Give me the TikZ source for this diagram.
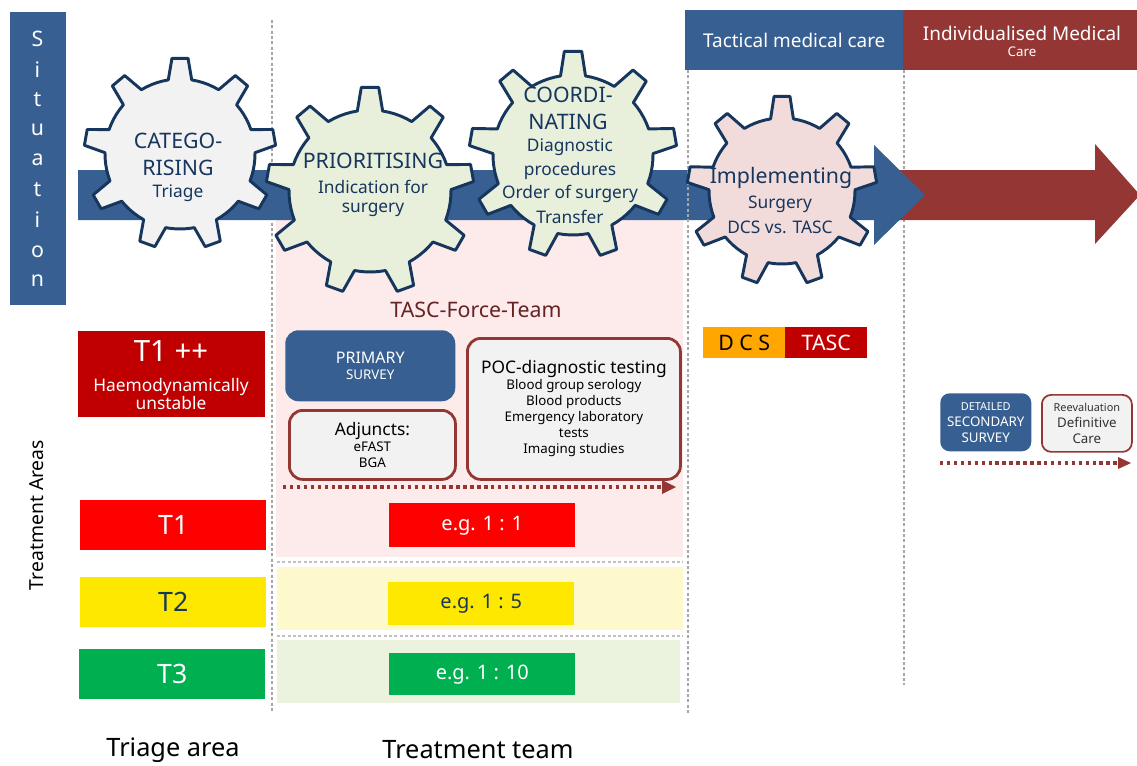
\documentclass[tikz,border=0pt]{standalone}
\usepackage{fontspec}
\setmainfont{Noto Sans}
\usetikzlibrary{arrows.meta}
\definecolor{tblue}{HTML}{375F91}
\definecolor{tred}{HTML}{943634}
\definecolor{gearink}{HTML}{17365D}
\definecolor{gearbg}{HTML}{F2F2F2}
\definecolor{geargreen}{HTML}{E8F0DC}
\definecolor{gearpink}{HTML}{F2DCDB}
\definecolor{dkred}{HTML}{C00000}
\definecolor{tyellow}{HTML}{FFE800}
\definecolor{tgreen}{HTML}{00B050}
\definecolor{bgpink}{HTML}{FDEBEB}
\definecolor{bgyellow}{HTML}{FDF9CD}
\definecolor{bggreen}{HTML}{EBF2DE}
\definecolor{dotgray}{HTML}{A6A6A6}
\definecolor{teamred}{HTML}{632423}
\newcommand{\fsz}[1]{\fontsize{#1}{#1}\selectfont}
\newcommand{\gearshape}[6]{%
  \draw[gearline,fill=#6]
    ({#2+#5*cos(81)},{#3-#5*sin(81)})
    \foreach \a in {90,130,170,210,250,290,330,370,410} {
      -- ({#2+#4*cos(\a-4.8)},{#3-#4*sin(\a-4.8)})
      -- ({#2+#4*cos(\a+4.8)},{#3-#4*sin(\a+4.8)})
      \foreach \s in {9,13.4,17.8,22.2,26.6,31} {
        -- ({#2+#5*cos(\a+\s)},{#3-#5*sin(\a+\s)})
      }
    } -- cycle;
  \coordinate (#1) at (#2,#3);}
\tikzset{
  gearline/.style={draw=gearink,line width=2.2pt,line join=round},
  geartext/.style={text=gearink,align=center,inner sep=0pt},
  band/.style={fill=tblue,draw=none},
  sepline/.style={draw=dotgray,line width=2.2pt,dash pattern=on 2.2pt off 1.8pt},
  tbox/.style={draw=none,text=white,font=\bfseries,align=center,inner sep=0pt},
  outlined/.style={draw=tred,line width=2.1pt,fill=gearbg,rounded corners=10pt,align=center,text=black,inner sep=0pt},
  dotarrow/.style={draw=tred,line width=2.4pt,dash pattern=on 2.6pt off 2.6pt},
  hdr/.style={text=white,font=\bfseries,align=center,inner sep=0pt},
}
\begin{document}
\begin{tikzpicture}[x=0.75pt,y=-0.75pt]
\useasboundingbox (0,0) rectangle (1137,765);
% backgrounds
\fill[bgpink] (276,220) rectangle (683,557);
\fill[bgyellow] (277,567) rectangle (683,630);
\fill[bggreen] (277,640) rectangle (680,703);
\coordinate (h1a) at (277,562); \coordinate (h1b) at (683,562);
\coordinate (h2a) at (277,636); \coordinate (h2b) at (683,636);
\draw[sepline,draw=dotgray!70] (h1a) -- (h1b);
\draw[sepline,draw=dotgray!70] (h2a) -- (h2b);
% vertical separators
\coordinate (v1a) at (272,20); \coordinate (v1b) at (272,712);
\coordinate (v3a) at (904,70); \coordinate (v3b) at (904,685);
\draw[sepline] (v1a) -- (v1b);
\draw[sepline] (v3a) -- (v3b);
% arrows
\fill[tred] (898,170) -- (1095,170) -- (1095,144) -- (1140,195) -- (1095,244) -- (1095,220) -- (898,220) -- cycle;
\fill[band] (78,170) -- (874,170) -- (874,145) -- (925,195) -- (874,245) -- (874,220) -- (78,220) -- cycle;
\coordinate (v2a) at (688,70); \coordinate (v2b) at (688,715);
\draw[sepline] (v2a) -- (v2b);
% headers
\node[fill=tblue,minimum width=218*0.75pt,minimum height=60*0.75pt,hdr,anchor=north west] (tact) at (685,10) {\fsz{14.2}Tactical medical care};
\node[fill=tred,minimum width=234*0.75pt,minimum height=60*0.75pt,hdr,anchor=north west] (indiv) at (903,10) {};
\node[hdr,text=white] (indivtxt) at (1022,41) {\fsz{14.2}\setlength{\baselineskip}{19.5pt}Individualised Medical\\Care};
% situation
\fill[tblue] (10,12) rectangle (66,305);
\foreach \ch/\yy/\nm in {S/39/a,i/70/b,t/100/c,u/130/d,a/160/e,t/190/f,i/220/g,o/252/h,n/281/i}
  \node[text=white,font=\bfseries\fsz{16}] (sit\nm) at (37.5,\yy) {\ch};
% gears
\gearshape{g1}{180}{154}{96}{75}{gearbg}
\gearshape{g2}{370}{191}{104}{81}{geargreen}
\gearshape{g3}{573}{155}{104}{80}{geargreen}
\gearshape{g4}{782}{191}{95}{73}{gearpink}
\node[geartext,font=\bfseries\fsz{16}] (t1a) at (178,141) {CATEGO-};
\node[geartext,font=\bfseries\fsz{16}] (t1b) at (178,168) {RISING};
\node[geartext,font=\fsz{13}] (t1c) at (178,193) {Triage};
\node[geartext,font=\bfseries\fsz{16}] (t2a) at (373,161) {PRIORITISING};
\node[geartext,font=\fsz{13}] (t2b) at (373,187) {Indication for};
\node[geartext,font=\fsz{13}] (t2c) at (373,210) {surgery};
\node[geartext,font=\bfseries\fsz{16}] (t3a) at (568,95) {COORDI-};
\node[geartext,font=\bfseries\fsz{16}] (t3b) at (568,122) {NATING};
\node[geartext,font=\fsz{13}] (t3c) at (570,147) {Diagnostic};
\node[geartext,font=\fsz{13}] (t3d) at (570,171) {procedures};
\node[geartext,font=\fsz{13}] (t3e) at (570,194) {Order of surgery};
\node[geartext,font=\fsz{13}] (t3f) at (570,217) {Transfer};
\node[geartext,font=\bfseries\fsz{16}] (t4a) at (781,178) {Implementing};
\node[geartext,font=\fsz{13}] (t4b) at (780,204) {Surgery};
\node[geartext,font=\fsz{13}] (t4c) at (780,227) {DCS vs. TASC};
% team
\node[text=teamred,font=\bfseries\fsz{16},inner sep=0pt] (team) at (476,310) {TASC-Force-Team};
\node[fill=tblue,rounded corners=10pt,tbox,minimum width=170*0.75pt,minimum height=71*0.75pt,anchor=north west] (prim) at (285,330) {\fsz{12}\setlength{\baselineskip}{17pt}PRIMARY\\SURVEY};
\node[outlined,minimum width=166*0.75pt,minimum height=69*0.75pt,anchor=north west] (adj) at (288,409) {\fsz{13}\setlength{\baselineskip}{17pt}Adjuncts:\\eFAST\\BGA};
\node[outlined,minimum width=213*0.75pt,minimum height=141*0.75pt,anchor=north west] (poc) at (466,337) {\fsz{13}\setlength{\baselineskip}{17.2pt}POC-diagnostic testing\\Blood group serology\\Blood products\\Emergency laboratory\\tests\\Imaging studies};
\coordinate (d1a) at (283,487); \coordinate (d1b) at (662,487);
\draw[dotarrow] (d1a) -- (d1b);
\coordinate (d1c) at (676,487);
\fill[tred] (d1b) ++(0,-7) -- (d1c) -- (662,494) -- cycle;
% triage boxes
\node[fill=dkred,tbox,minimum width=187*0.75pt,minimum height=86*0.75pt,anchor=north west] (t1pp) at (78,331) {};
\node[text=white,font=\bfseries\fsz{22},inner sep=0pt] (t1pa) at (171,351) {T1 ++};
\node[text=white,font=\bfseries\fsz{13},inner sep=0pt,align=center] (t1pb) at (171,394) {\setlength{\baselineskip}{17pt}Haemodynamically\\unstable};
\node[fill=red,tbox,minimum width=186*0.75pt,minimum height=50*0.75pt,anchor=north west,font=\bfseries\fsz{20}] (tt1) at (80,500) {T1};
\node[fill=tyellow,tbox,text=gearink,minimum width=186*0.75pt,minimum height=50*0.75pt,anchor=north west,font=\bfseries\fsz{20}] (tt2) at (80,577) {T2};
\node[fill=tgreen,tbox,minimum width=186*0.75pt,minimum height=50*0.75pt,anchor=north west,font=\bfseries\fsz{20}] (tt3) at (79,649) {T3};
\node[fill=red,tbox,minimum width=186*0.75pt,minimum height=44*0.75pt,anchor=north west,font=\bfseries\fsz{15}] (e1) at (389,503) {e.g. 1 : 1};
\node[fill=tyellow,tbox,text=gearink,minimum width=186*0.75pt,minimum height=43*0.75pt,anchor=north west,font=\bfseries\fsz{15}] (e2) at (388,582) {e.g. 1 : 5};
\node[fill=tgreen,tbox,minimum width=186*0.75pt,minimum height=42*0.75pt,anchor=north west,font=\bfseries\fsz{15}] (e3) at (389,653) {e.g. 1 : 10};
% DCS TASC
\node[fill=orange!70!yellow,tbox,text=black,minimum width=82*0.75pt,minimum height=31*0.75pt,anchor=north west,font=\bfseries\fsz{16}] (dcs) at (703,327) {D C S};
\node[fill=dkred,tbox,minimum width=82*0.75pt,minimum height=31*0.75pt,anchor=north west,font=\bfseries\fsz{16}] (tasc) at (785,327) {TASC};
% secondary
\node[fill=tblue,rounded corners=7pt,tbox,minimum width=91*0.75pt,minimum height=58*0.75pt,anchor=north west] (sec) at (940,393) {\fsz{8.2}\setlength{\baselineskip}{11.2pt}DETAILED\\SECONDARY\\SURVEY};
\node[draw=tred,line width=1.3pt,fill=gearbg,rounded corners=7pt,align=center,inner sep=0pt,minimum width=90*0.75pt,minimum height=57*0.75pt,anchor=north west,text=black!80] (re) at (1041,394) {\fsz{8.2}\setlength{\baselineskip}{11.2pt}Reevaluation\\Definitive\\Care};
\coordinate (d2a) at (940,463); \coordinate (d2b) at (1118,463);
\draw[dotarrow] (d2a) -- (d2b);
\coordinate (d2c) at (1131,463);
\fill[tred] (d2b) ++(0,-6) -- (d2c) -- (1118,469) -- cycle;
% labels
\node[rotate=90,font=\fsz{14.5},inner sep=0pt] (areas) at (37,515) {Treatment Areas};
\node[font=\fsz{19},inner sep=0pt] (triage) at (173,750) {Triage area};
\node[font=\fsz{19},inner sep=0pt] (tteam) at (478,750) {Treatment team};
\end{tikzpicture}
\end{document}
